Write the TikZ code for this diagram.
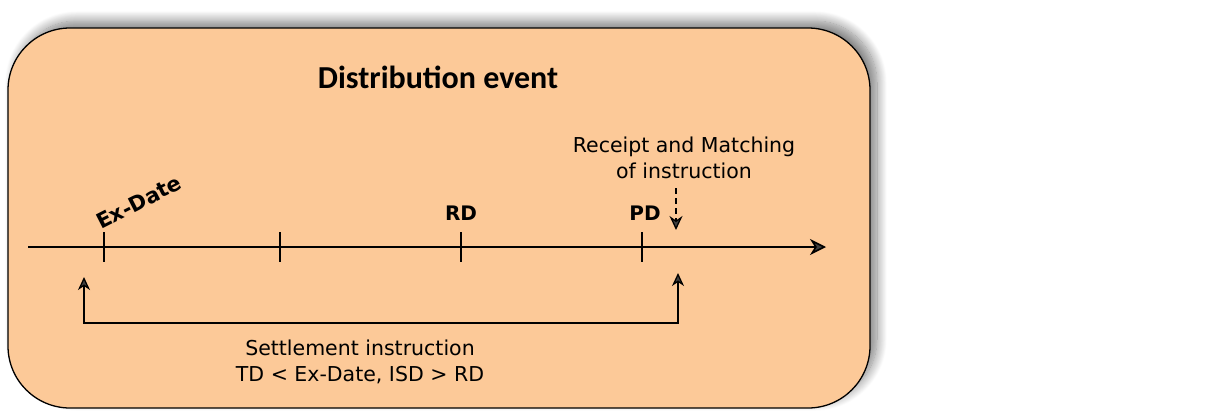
\documentclass[tikz,border=0pt]{standalone}
\usepackage{fontspec}
\setmainfont{DejaVu Sans}
\newfontfamily\titlefont{Carlito}
\usetikzlibrary{shadows.blur,arrows.meta}
\definecolor{peach}{RGB}{252,201,152}

\begin{document}
\begin{tikzpicture}
[x=1pt,y=-1pt,
datelabel/.style={font=\bfseries\fontsize{20}{24}\selectfont},
note/.style={font=\fontsize{20.5}{26}\selectfont,align=center},
big tip/.style={-{Stealth[length=16pt,width=16pt,inset=5pt]}},
small tip/.style={{Stealth[length=13pt,width=12pt,inset=4pt]}-{Stealth[length=13pt,width=12pt,inset=4pt]}},]

\useasboundingbox (0,0) rectangle (1222,410);

%Event box
\draw[fill=peach,line width=1.3pt,rounded corners=62pt,
  blur shadow={shadow xshift=7pt,shadow yshift=7pt,shadow blur radius=10pt,
  shadow opacity=50,shadow blur steps=14}] (8,28) rectangle (870,408);
\node (title) at (438,77) [font=\titlefont\bfseries\fontsize{32}{36}\selectfont] {Distribution event};

%Time axis
\coordinate (start) at (28,247);
\coordinate (end) at (826,247);
\coordinate (exd) at (104,247);
\coordinate (mid) at (280,247);
\coordinate (rdt) at (461,247);
\coordinate (pdt) at (642,247);
\draw[big tip,line width=1.6pt] (start) -- (end);
\foreach \t in {exd,mid,rdt,pdt}
  \draw[line width=1.3pt] (\t) ++(0,-15) -- ++(0,30);

%Labeling dates
\node (ex) at (139,202) [datelabel,rotate=27,font=\bfseries\fontsize{21}{24}\selectfont] {Ex-Date};
\node (rd) at (461,213) [datelabel] {RD};
\node (pd) at (645,213) [datelabel] {PD};

%Matching
\node (recv) at (684,158) [note] {Receipt and Matching\\of instruction};
\coordinate (match) at (676,230);
\draw[-{Stealth[length=14pt,width=13pt,inset=4.5pt]},line width=1.3pt,dash pattern=on 6pt off 4pt] (676,188) -- (match);

%Settlement instruction
\coordinate (sL) at (84,277);
\coordinate (sR) at (678,273);
\draw[small tip,line width=1.3pt] (sL) -- ++(0,46) -| (sR);
\node (settle) at (360,362) [note] {Settlement instruction\\TD < Ex-Date, ISD > RD};

\end{tikzpicture}
\end{document}
